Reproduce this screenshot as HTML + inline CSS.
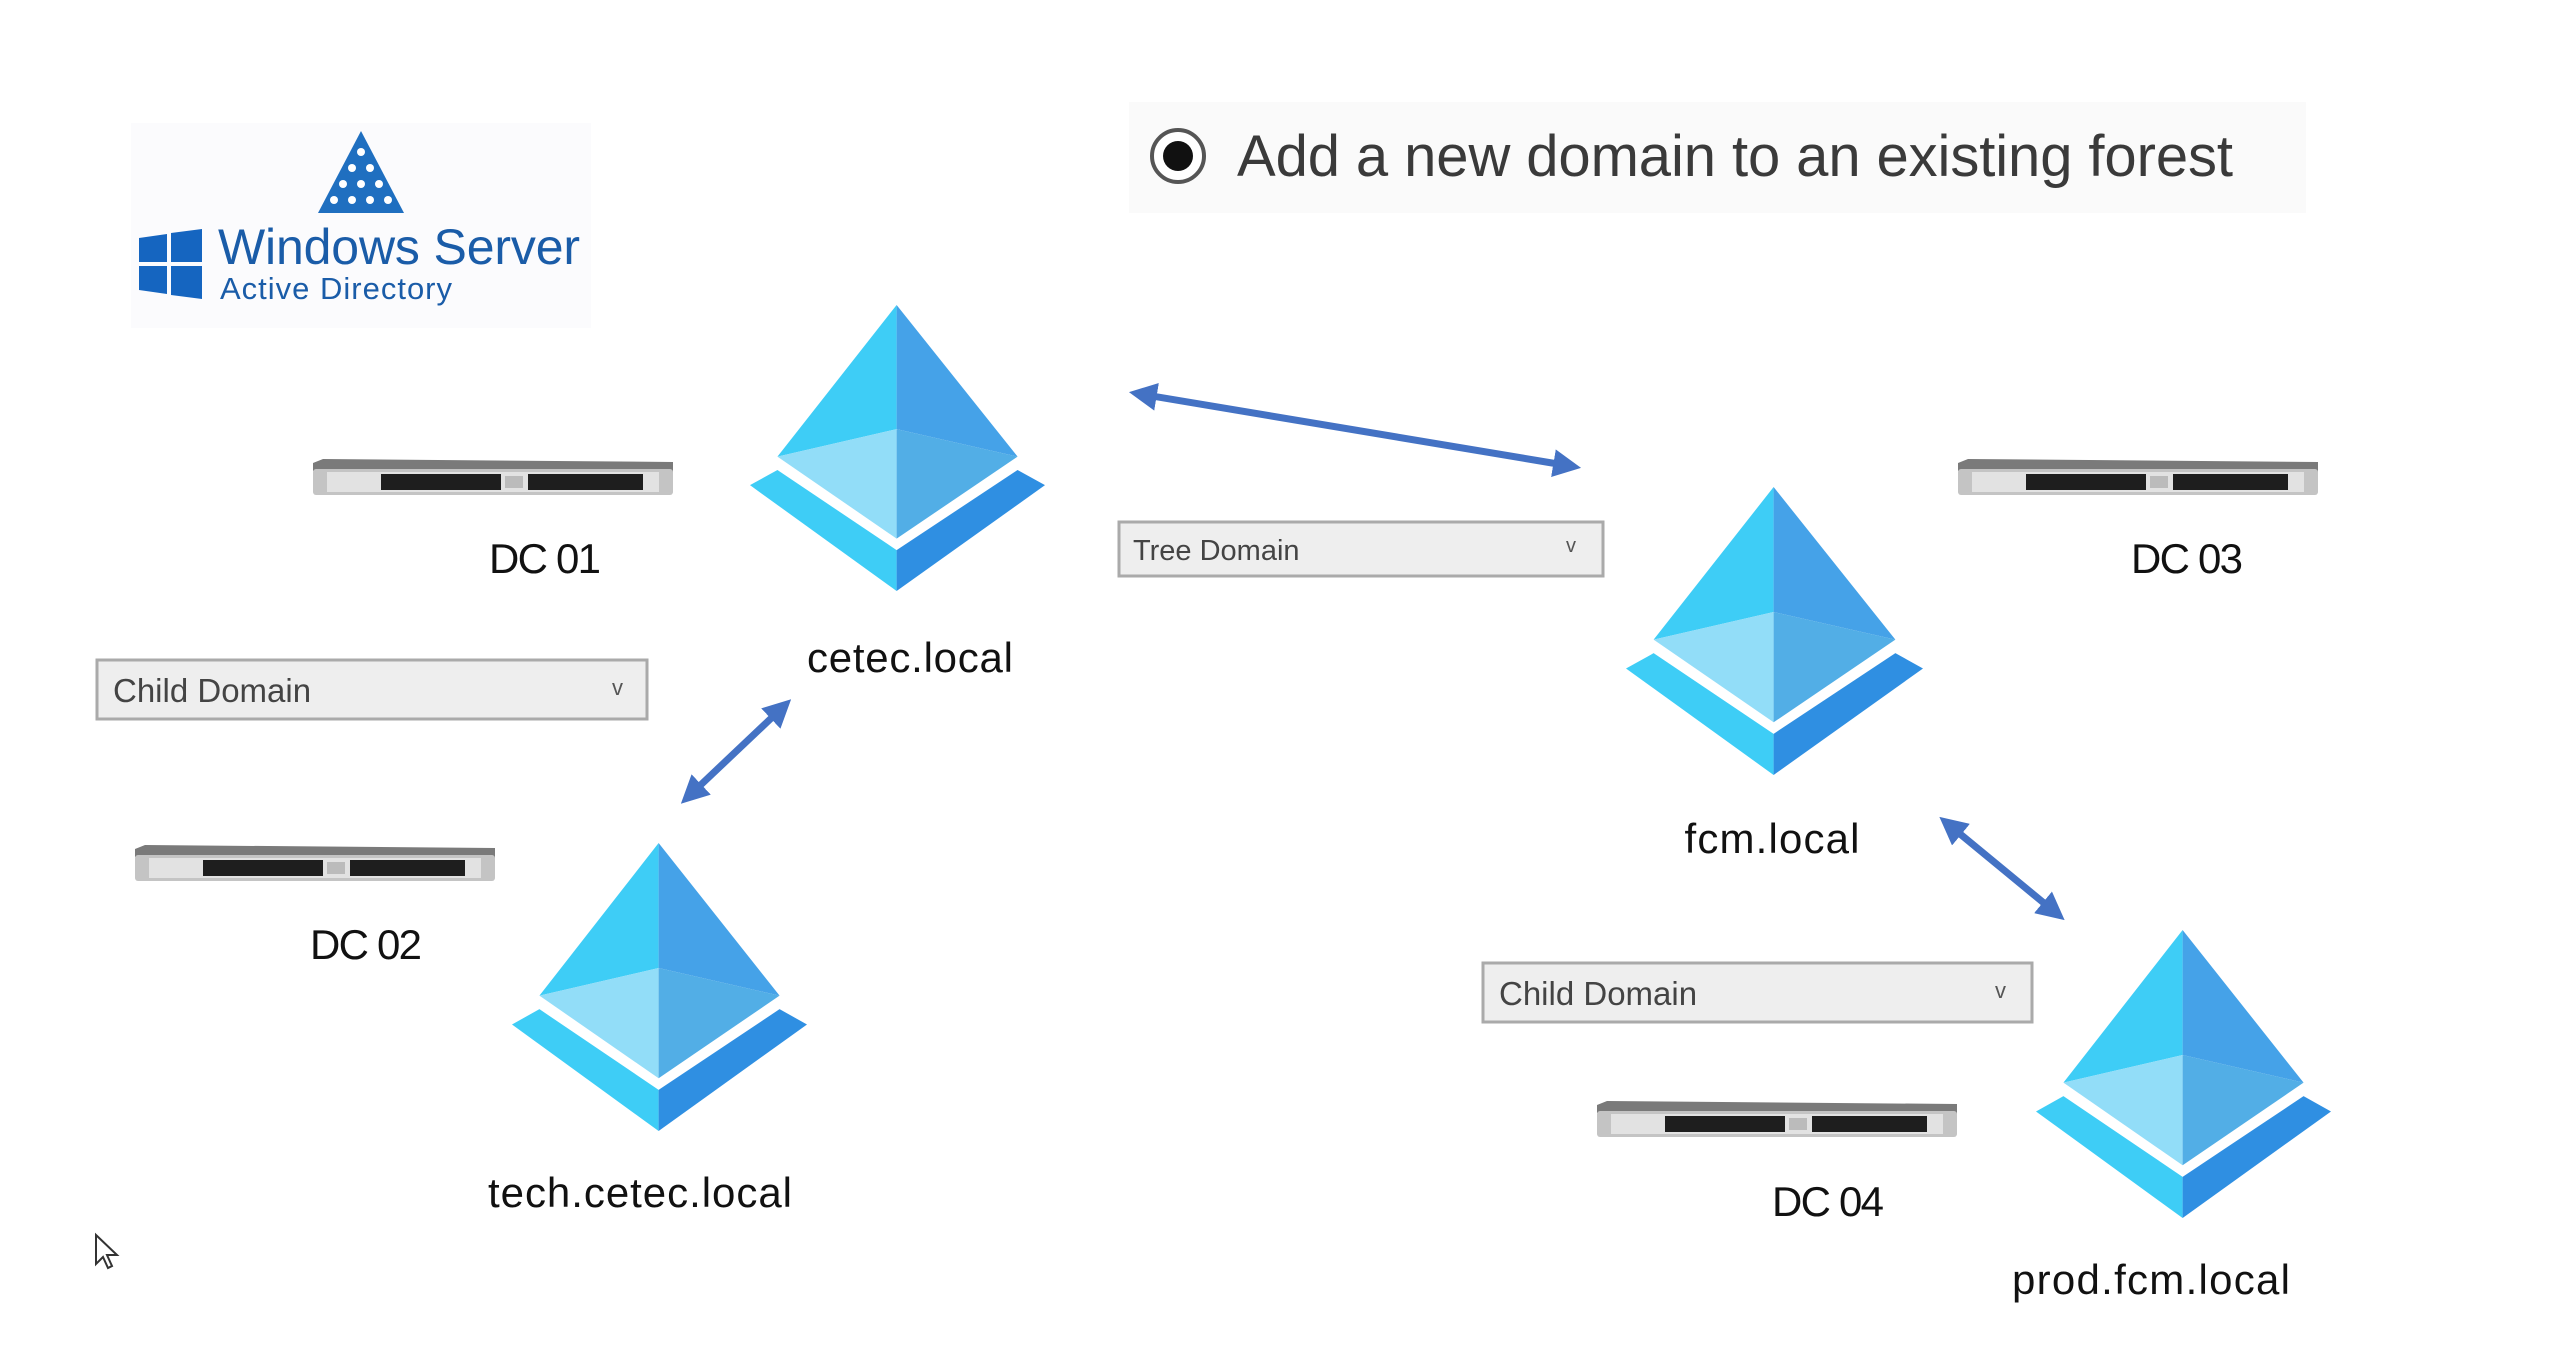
<!DOCTYPE html>
<html><head><meta charset="utf-8"><style>
html,body{margin:0;padding:0;background:#fff;}
svg{display:block;}
text{font-family:"Liberation Sans",sans-serif;}
</style></head><body>
<svg width="2560" height="1361" viewBox="0 0 2560 1361" xmlns="http://www.w3.org/2000/svg">
<defs>
<g id="pyr">
  <polygon points="49.7,0 9.3,53 49.7,43.4" fill="#3ECDF6"/>
  <polygon points="49.7,0 90.7,53 49.7,43.4" fill="#45A2E8"/>
  <polygon points="9.3,53 49.7,43.4 49.7,81.7" fill="#92DDF8"/>
  <polygon points="90.7,53 49.7,43.4 49.7,81.7" fill="#52AEE6"/>
  <polygon points="0,63 9.3,57.7 49.7,85.7 49.7,100" fill="#3ECDF6"/>
  <polygon points="100,63 90.7,57.7 49.7,85.7 49.7,100" fill="#2F8FE2"/>
</g>
<g id="srv">
  <polygon points="0,4 10,0 360,3 360,14 0,12" fill="#7a7a7a"/>
  <rect x="0" y="10" width="360" height="26" rx="3" fill="#c4c4c4"/>
  <rect x="14" y="13" width="332" height="20" fill="#e2e2e2"/>
  <rect x="68" y="15" width="120" height="16" fill="#1e1e1e"/>
  <rect x="215" y="15" width="115" height="16" fill="#1e1e1e"/>
  <rect x="192" y="17" width="18" height="12" fill="#bbb"/>
</g>
<marker id="ah" viewBox="0 0 10 10" refX="6" refY="5" markerWidth="4" markerHeight="4" orient="auto-start-reverse">
  <path d="M0,0 L10,5 L0,10 z" fill="#4472C4"/>
</marker>
</defs>

<rect x="131" y="123" width="460" height="205" fill="#fbfbfd"/>
<polygon points="361,131 318,213 404,213" fill="#1f6fc0"/>
<g fill="#fff"><circle cx="361" cy="152" r="4"/><circle cx="352" cy="168" r="4"/><circle cx="370" cy="168" r="4"/><circle cx="343" cy="184" r="4"/><circle cx="361" cy="184" r="4"/><circle cx="379" cy="184" r="4"/><circle cx="334" cy="200" r="4"/><circle cx="352" cy="200" r="4"/><circle cx="370" cy="200" r="4"/><circle cx="388" cy="200" r="4"/></g>
<polygon points="139,238 167,234 167,262 139,262" fill="#1565c0"/>
<polygon points="171,233 202,229 202,262 171,262" fill="#1565c0"/>
<polygon points="139,266 167,266 167,294 139,290" fill="#1565c0"/>
<polygon points="171,266 202,266 202,299 171,295" fill="#1565c0"/>
<text x="218" y="264" font-size="50" fill="#1a5ca8" textLength="362">Windows Server</text>
<text x="220" y="299" font-size="31" fill="#1a5ca8" textLength="232">Active Directory</text>

<rect x="1129" y="102" width="1177" height="111" fill="#fafafa"/>
<circle cx="1178" cy="156" r="26" fill="#fff" stroke="#555" stroke-width="4"/>
<circle cx="1178" cy="156" r="15" fill="#111"/>
<text x="1237" y="176" font-size="58" fill="#3a3a3a" textLength="996">Add a new domain to an existing forest</text>

<g transform="translate(750,305) scale(2.95,2.86)"><use href="#pyr"/></g>
<g transform="translate(1626,487) scale(2.97,2.88)"><use href="#pyr"/></g>
<g transform="translate(512,843) scale(2.95,2.88)"><use href="#pyr"/></g>
<g transform="translate(2036,930) scale(2.95,2.88)"><use href="#pyr"/></g>

<use href="#srv" x="313" y="459"/>
<use href="#srv" x="1958" y="459"/>
<use href="#srv" x="135" y="845"/>
<use href="#srv" x="1597" y="1101"/>

<g font-size="42" fill="#111" text-anchor="middle">
<text x="545" y="573" textLength="112">DC 01</text>
<text x="2187" y="573" textLength="112">DC 03</text>
<text x="366" y="959" textLength="112">DC 02</text>
<text x="1828" y="1216" textLength="112">DC 04</text>
<text x="910" y="672" textLength="206">cetec.local</text>
<text x="1772" y="853" textLength="175">fcm.local</text>
<text x="640" y="1207" textLength="304">tech.cetec.local</text>
<text x="2151" y="1294" textLength="278">prod.fcm.local</text>
</g>

<g>
<rect x="97" y="660" width="550" height="59" fill="#eeeeee" stroke="#aaa" stroke-width="3"/>
<text x="113" y="702" font-size="33" fill="#444">Child Domain</text>
<text x="612" y="695" font-size="22" fill="#555">v</text>
<rect x="1119" y="522" width="484" height="54" fill="#eeeeee" stroke="#aaa" stroke-width="3"/>
<text x="1133" y="560" font-size="29" fill="#444">Tree Domain</text>
<text x="1566" y="552" font-size="20" fill="#555">v</text>
<rect x="1483" y="963" width="549" height="59" fill="#eeeeee" stroke="#aaa" stroke-width="3"/>
<text x="1499" y="1005" font-size="33" fill="#444">Child Domain</text>
<text x="1995" y="998" font-size="22" fill="#555">v</text>
</g>

<g stroke="#4472C4" stroke-width="7" marker-start="url(#ah)" marker-end="url(#ah)">
<line x1="1140" y1="394" x2="1570" y2="466"/>
<line x1="783" y1="707" x2="689" y2="796"/>
<line x1="1948" y1="824" x2="2056" y2="913"/>
</g>

<polygon points="96,1235 96,1264 103,1257 108,1268 112,1266 107,1255 117,1255" fill="#fff" stroke="#333" stroke-width="2"/>
</svg>
</body></html>
